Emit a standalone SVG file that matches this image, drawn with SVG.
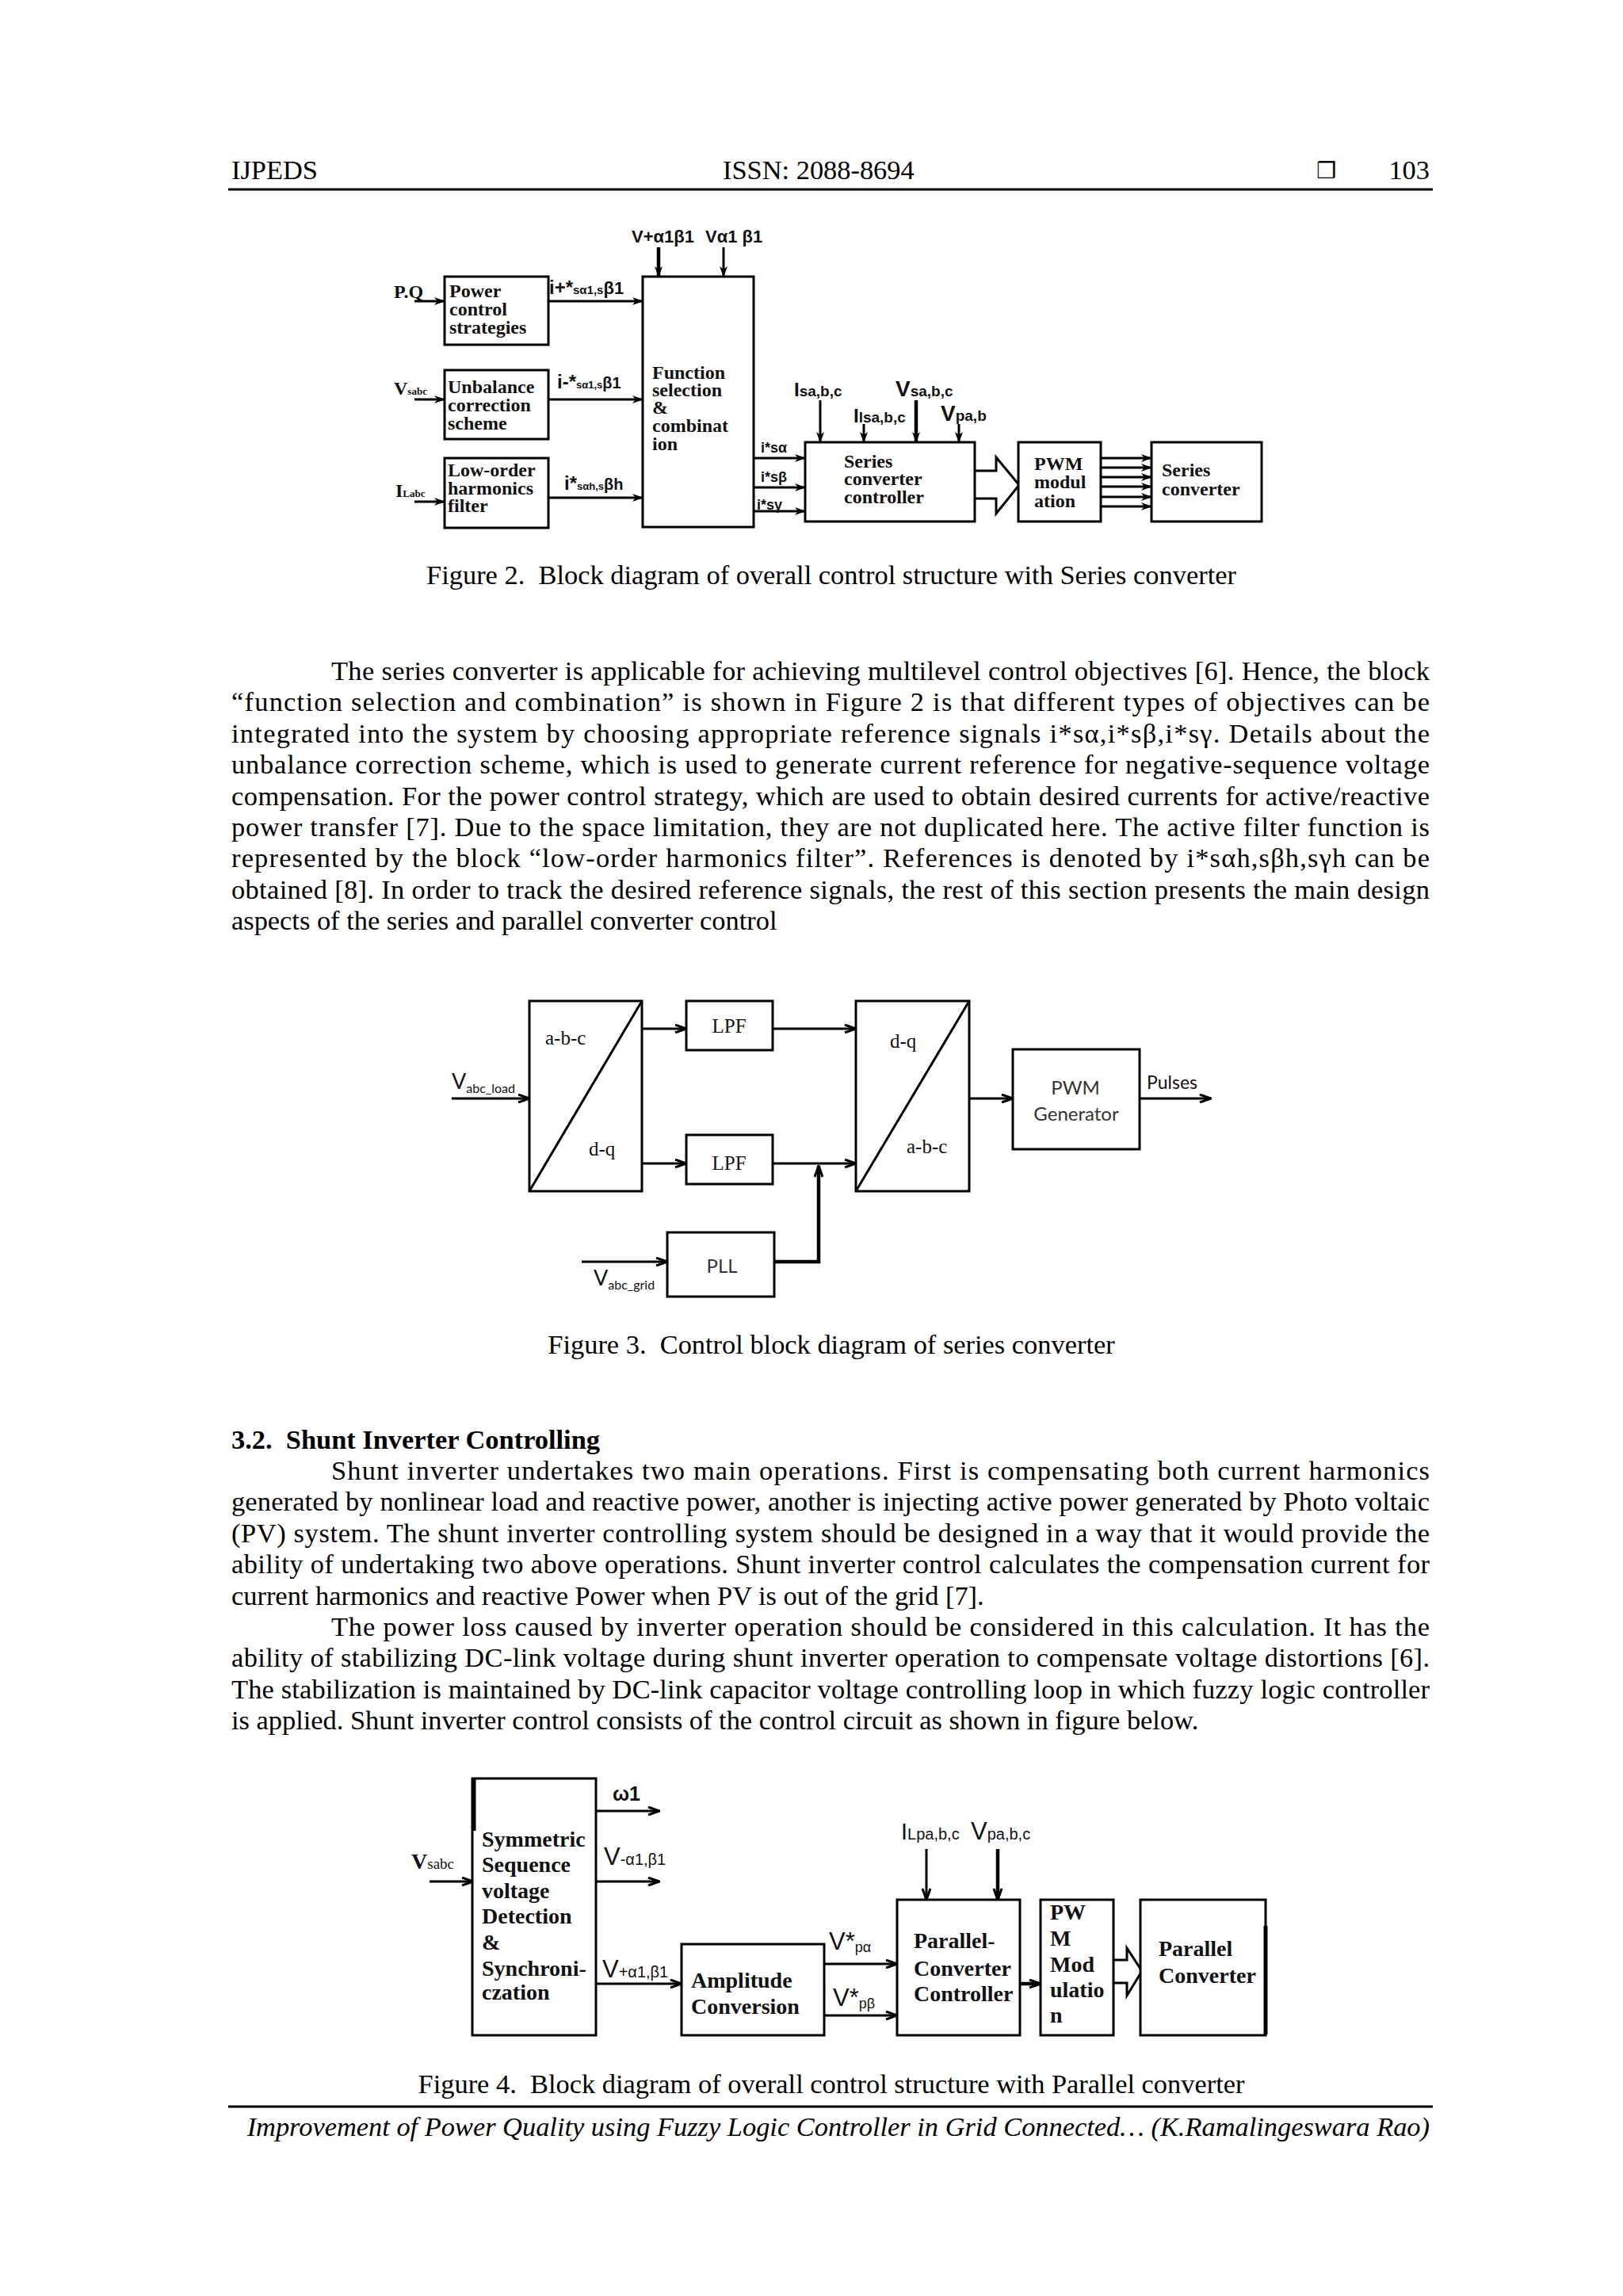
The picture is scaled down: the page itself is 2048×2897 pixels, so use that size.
<svg xmlns="http://www.w3.org/2000/svg" width="2048" height="2897" viewBox="0 0 2048 2897">
<style>
.bg{fill:#fff}
.body{font-family:"Liberation Serif","Times New Roman",serif;font-size:34.4px;fill:#000}
.it{font-style:italic}
.bold{font-weight:bold}
.box{fill:#fff;stroke:#000;stroke-width:3}
.ln{fill:none;stroke:#000;stroke-width:3}
.thk{fill:none;stroke:#000;stroke-width:4.5}
.f2{font-family:"Liberation Serif","Times New Roman",serif;font-size:24px;font-weight:bold;fill:#111}
.f2s{font-family:"Liberation Sans",Arial,sans-serif;font-weight:bold;fill:#111}
.f3{font-family:"Liberation Serif","Times New Roman",serif;font-size:25px;fill:#111}
.f3s{font-family:Lato,"Liberation Sans",sans-serif;fill:#333}
.f4{font-family:"Liberation Serif","Times New Roman",serif;font-size:28px;font-weight:bold;fill:#111}
.f4s{font-family:"Liberation Sans",Arial,sans-serif;fill:#111}
</style>
<defs>
<marker id="ah" viewBox="0 0 16 12" refX="15" refY="6" markerWidth="16" markerHeight="12" markerUnits="userSpaceOnUse" orient="auto">
<path d="M1,1 L15,6 L1,11" fill="none" stroke="#000" stroke-width="3"/>
</marker>
<marker id="af" viewBox="0 0 14 12" refX="13" refY="6" markerWidth="14" markerHeight="12" markerUnits="userSpaceOnUse" orient="auto">
<path d="M0,1 L14,6 L0,11 L4,6 Z" fill="#000"/>
</marker>
</defs>
<rect class="bg" x="0" y="0" width="2048" height="2897"/>

<g id="header">
<text class="body" x="292" y="226">IJPEDS</text>
<text class="body" x="912" y="226">ISSN: 2088-8694</text>
<text x="1661" y="225" style="font-family:'DejaVu Sans',sans-serif;font-size:28px;fill:#000">❒</text>
<text class="body" x="1804" y="226" text-anchor="end">103</text>
<line x1="288" y1="239" x2="1808" y2="239" stroke="#000" stroke-width="3"/>
</g>

<!-- ================= FIGURE 2 ================= -->
<g id="fig2-connectors">
<line class="thk" x1="831" y1="312" x2="831" y2="349" marker-end="url(#af)"/>
<line class="ln" x1="913" y1="312" x2="913" y2="349" marker-end="url(#af)"/>
<line class="ln" x1="523" y1="380" x2="561" y2="380" marker-end="url(#af)"/>
<line class="ln" x1="523" y1="504" x2="561" y2="504" marker-end="url(#af)"/>
<line class="ln" x1="523" y1="633" x2="561" y2="633" marker-end="url(#af)"/>
<line class="ln" x1="692" y1="380" x2="811" y2="380" marker-end="url(#af)"/>
<line class="ln" x1="692" y1="504" x2="811" y2="504" marker-end="url(#af)"/>
<line class="ln" x1="692" y1="628" x2="811" y2="628" marker-end="url(#af)"/>
<line class="ln" x1="951" y1="578" x2="1016" y2="578" marker-end="url(#af)"/>
<line class="ln" x1="951" y1="615" x2="1016" y2="615" marker-end="url(#af)"/>
<line class="ln" x1="951" y1="645" x2="1016" y2="645" marker-end="url(#af)"/>
<line class="ln" x1="1035" y1="505" x2="1035" y2="558" marker-end="url(#af)"/>
<line class="ln" x1="1090" y1="535" x2="1090" y2="558" marker-end="url(#af)"/>
<line class="thk" x1="1156" y1="505" x2="1156" y2="558" marker-end="url(#af)"/>
<line class="ln" x1="1210" y1="535" x2="1210" y2="558" marker-end="url(#af)"/>
<path d="M1230,594 H1257 V577 L1286,612 L1257,648 V629 H1230" fill="#fff" stroke="#000" stroke-width="3"/>
<line class="ln" x1="1389" y1="578" x2="1453" y2="578" marker-end="url(#af)"/>
<line class="ln" x1="1389" y1="590" x2="1453" y2="590" marker-end="url(#af)"/>
<line class="ln" x1="1389" y1="602" x2="1453" y2="602" marker-end="url(#af)"/>
<line class="ln" x1="1389" y1="614" x2="1453" y2="614" marker-end="url(#af)"/>
<line class="ln" x1="1389" y1="627" x2="1453" y2="627" marker-end="url(#af)"/>
<line class="ln" x1="1389" y1="639" x2="1453" y2="639" marker-end="url(#af)"/>
</g>
<g id="fig2-labels">
<text class="f2s" x="797" y="306" font-size="22">V+α1β1</text>
<text class="f2s" x="890" y="306" font-size="22">Vα1 β1</text>
<text class="f2" x="497" y="376" font-size="27">P.Q</text>
<text class="f2" x="497" y="498" font-size="28">V<tspan font-size="13">sabc</tspan></text>
<text class="f2" x="499" y="627" font-size="27">I<tspan font-size="13">Labc</tspan></text>
<text class="f2s" x="693" y="371" font-size="24">i+*<tspan font-size="15">sα1,s</tspan><tspan font-size="22">β1</tspan></text>
<text class="f2s" x="703" y="490" font-size="24">i-*<tspan font-size="13">sα1,s</tspan><tspan font-size="20">β1</tspan></text>
<text class="f2s" x="712" y="618" font-size="24">i*<tspan font-size="13">sαh,s</tspan><tspan font-size="20">βh</tspan></text>
<text class="f2s" x="960" y="571" font-size="18">i*sα</text>
<text class="f2s" x="960" y="608" font-size="18">i*sβ</text>
<text class="f2s" x="955" y="643" font-size="18">i*sγ</text>
<text class="f2s" x="1002" y="500" font-size="24">I<tspan font-size="19">sa,b,c</tspan></text>
<text class="f2s" x="1077" y="533" font-size="24">I<tspan font-size="19">lsa,b,c</tspan></text>
<text class="f2s" x="1130" y="500" font-size="28">V<tspan font-size="19">sa,b,c</tspan></text>
<text class="f2s" x="1187" y="531" font-size="28">V<tspan font-size="19">pa,b</tspan></text>
</g>
<g id="f2-power">
<rect class="box" x="561" y="349" width="131" height="86"/>
<text class="f2" x="567" y="375">Power</text>
<text class="f2" x="567" y="398">control</text>
<text class="f2" x="567" y="421">strategies</text>
</g>
<g id="f2-unbalance">
<rect class="box" x="561" y="467" width="131" height="87"/>
<text class="f2" x="565" y="496">Unbalance</text>
<text class="f2" x="565" y="519">correction</text>
<text class="f2" x="565" y="542">scheme</text>
</g>
<g id="f2-loworder">
<rect class="box" x="561" y="578" width="131" height="88"/>
<text class="f2" x="565" y="601">Low-order</text>
<text class="f2" x="565" y="624">harmonics</text>
<text class="f2" x="565" y="646">filter</text>
</g>
<g id="f2-function">
<rect class="box" x="811" y="349" width="140" height="316" stroke-width="3.5"/>
<text class="f2" x="823" y="478">Function</text>
<text class="f2" x="823" y="500">selection</text>
<text class="f2" x="823" y="522">&amp;</text>
<text class="f2" x="823" y="545">combinat</text>
<text class="f2" x="823" y="568">ion</text>
</g>
<g id="f2-seriesctrl">
<rect class="box" x="1016" y="558" width="214" height="100"/>
<text class="f2" x="1065" y="590">Series</text>
<text class="f2" x="1065" y="612">converter</text>
<text class="f2" x="1065" y="635">controller</text>
</g>
<g id="f2-pwm">
<rect class="box" x="1285" y="558" width="104" height="100"/>
<text class="f2" x="1305" y="593">PWM</text>
<text class="f2" x="1305" y="616">modul</text>
<text class="f2" x="1305" y="640">ation</text>
</g>
<g id="f2-seriesconv">
<rect class="box" x="1453" y="558" width="139" height="100"/>
<text class="f2" x="1466" y="601">Series</text>
<text class="f2" x="1466" y="625">converter</text>
</g>
<text class="body" x="1049" y="737" text-anchor="middle">Figure 2.&#160; Block diagram of overall control structure with Series converter</text>

<!-- ================= PARAGRAPH 1 ================= -->
<g id="para1" class="body">
<text x="418" y="858" textLength="1386" lengthAdjust="spacing">The series converter is applicable for achieving multilevel control objectives [6]. Hence, the block</text>
<text x="292" y="897.4" textLength="1512" lengthAdjust="spacing">“function selection and combination” is shown in Figure 2 is that different types of objectives can be</text>
<text x="292" y="936.8" textLength="1512" lengthAdjust="spacing">integrated into the system by choosing appropriate reference signals i*sα,i*sβ,i*sγ. Details about the</text>
<text x="292" y="976.2" textLength="1512" lengthAdjust="spacing">unbalance correction scheme, which is used to generate current reference for negative-sequence voltage</text>
<text x="292" y="1015.6" textLength="1512" lengthAdjust="spacing">compensation. For the power control strategy, which are used to obtain desired currents for active/reactive</text>
<text x="292" y="1055" textLength="1512" lengthAdjust="spacing">power transfer [7]. Due to the space limitation, they are not duplicated here. The active filter function is</text>
<text x="292" y="1094.4" textLength="1512" lengthAdjust="spacing">represented by the block “low-order harmonics filter”. References is denoted by i*sαh,sβh,sγh can be</text>
<text x="292" y="1133.8" textLength="1512" lengthAdjust="spacing">obtained [8]. In order to track the desired reference signals, the rest of this section presents the main design</text>
<text x="292" y="1173.2">aspects of the series and parallel converter control</text>
</g>

<!-- ================= FIGURE 3 ================= -->
<g id="fig3-connectors">
<line class="ln" x1="570" y1="1386" x2="668" y2="1386" marker-end="url(#ah)"/>
<line class="ln" x1="810" y1="1298" x2="866" y2="1298" marker-end="url(#ah)"/>
<line class="ln" x1="810" y1="1468" x2="866" y2="1468" marker-end="url(#ah)"/>
<line class="ln" x1="975" y1="1298" x2="1080" y2="1298" marker-end="url(#ah)"/>
<line class="ln" x1="975" y1="1468" x2="1080" y2="1468" marker-end="url(#ah)"/>
<line class="ln" x1="734" y1="1592" x2="842" y2="1592" marker-end="url(#ah)"/>
<path d="M977,1592 H1033 V1471" fill="none" stroke="#000" stroke-width="4.5" marker-end="url(#ah)"/>
<line class="ln" x1="1223" y1="1386" x2="1278" y2="1386" marker-end="url(#ah)"/>
<line class="ln" x1="1438" y1="1386" x2="1528" y2="1386" marker-end="url(#ah)"/>
</g>
<g id="fig3-labels">
<text class="f3s" x="570" y="1374" font-size="27" style="fill:#111">V<tspan font-size="16" dy="5">abc_load</tspan></text>
<text class="f3s" x="749" y="1622" font-size="27" style="fill:#111">V<tspan font-size="16" dy="5">abc_grid</tspan></text>
<text class="f3s" x="1447" y="1374" font-size="23" style="fill:#111">Pulses</text>
</g>
<g id="f3-abc2dq">
<rect class="box" x="668" y="1263" width="142" height="240"/>
<line class="ln" x1="668" y1="1503" x2="810" y2="1263"/>
<text class="f3" x="688" y="1318">a-b-c</text>
<text class="f3" x="743" y="1458">d-q</text>
</g>
<g id="f3-lpf1">
<rect class="box" x="866" y="1263" width="109" height="62"/>
<text class="f3" x="920" y="1303" text-anchor="middle">LPF</text>
</g>
<g id="f3-lpf2">
<rect class="box" x="866" y="1432" width="109" height="62"/>
<text class="f3" x="920" y="1476" text-anchor="middle">LPF</text>
</g>
<g id="f3-pll">
<rect class="box" x="842" y="1555" width="135" height="81"/>
<text class="f3s" x="911" y="1606" font-size="24" text-anchor="middle">PLL</text>
</g>
<g id="f3-dq2abc">
<rect class="box" x="1080" y="1263" width="143" height="240"/>
<line class="ln" x1="1080" y1="1503" x2="1223" y2="1263"/>
<text class="f3" x="1123" y="1322">d-q</text>
<text class="f3" x="1144" y="1455">a-b-c</text>
</g>
<g id="f3-pwmgen">
<rect class="box" x="1278" y="1324" width="160" height="126"/>
<text class="f3s" x="1357" y="1381" font-size="24" text-anchor="middle">PWM</text>
<text class="f3s" x="1358" y="1414" font-size="24" text-anchor="middle">Generator</text>
</g>
<text class="body" x="1049" y="1708" text-anchor="middle">Figure 3.&#160; Control block diagram of series converter</text>

<!-- ================= SECTION 3.2 ================= -->
<text class="body bold" x="292" y="1828">3.2.&#160; Shunt Inverter Controlling</text>
<g id="para2" class="body">
<text x="418" y="1867" textLength="1386" lengthAdjust="spacing">Shunt inverter undertakes two main operations. First is compensating both current harmonics</text>
<text x="292" y="1906.4" textLength="1512" lengthAdjust="spacing">generated by nonlinear load and reactive power, another is injecting active power generated by Photo voltaic</text>
<text x="292" y="1945.8" textLength="1512" lengthAdjust="spacing">(PV) system. The shunt inverter controlling system should be designed in a way that it would provide the</text>
<text x="292" y="1985.2" textLength="1512" lengthAdjust="spacing">ability of undertaking two above operations. Shunt inverter control calculates the compensation current for</text>
<text x="292" y="2024.6">current harmonics and reactive Power when PV is out of the grid [7].</text>
</g>
<g id="para3" class="body">
<text x="418" y="2064" textLength="1386" lengthAdjust="spacing">The power loss caused by inverter operation should be considered in this calculation. It has the</text>
<text x="292" y="2103.4" textLength="1512" lengthAdjust="spacing">ability of stabilizing DC-link voltage during shunt inverter operation to compensate voltage distortions [6].</text>
<text x="292" y="2142.8" textLength="1512" lengthAdjust="spacing">The stabilization is maintained by DC-link capacitor voltage controlling loop in which fuzzy logic controller</text>
<text x="292" y="2182.2">is applied. Shunt inverter control consists of the control circuit as shown in figure below.</text>
</g>

<!-- ================= FIGURE 4 ================= -->
<g id="fig4-connectors">
<line class="ln" x1="542" y1="2374" x2="597" y2="2374" marker-end="url(#ah)"/>
<line class="ln" x1="752" y1="2285" x2="832" y2="2285" marker-end="url(#ah)"/>
<line class="ln" x1="752" y1="2374" x2="832" y2="2374" marker-end="url(#ah)"/>
<line class="ln" x1="752" y1="2503" x2="860" y2="2503" marker-end="url(#ah)"/>
<line class="ln" x1="1040" y1="2478" x2="1132" y2="2478" marker-end="url(#ah)"/>
<line class="ln" x1="1040" y1="2543" x2="1132" y2="2543" marker-end="url(#ah)"/>
<line class="ln" x1="1169" y1="2333" x2="1169" y2="2397" marker-end="url(#ah)"/>
<line class="thk" x1="1259" y1="2333" x2="1259" y2="2397" marker-end="url(#ah)"/>
<line class="thk" x1="1287" y1="2503" x2="1313" y2="2503" marker-end="url(#ah)"/>
<path d="M1405,2473 H1422 V2458 L1441,2487 L1422,2518 V2502 H1405" fill="#fff" stroke="#000" stroke-width="3"/>
</g>
<g id="fig4-labels">
<text class="f4" x="519" y="2358" font-size="34">V<tspan font-size="19" font-weight="normal">sabc</tspan></text>
<text class="f4s" x="773" y="2272" font-size="25" font-weight="bold">ω1</text>
<text class="f4s" x="762" y="2353" font-size="31">V<tspan font-size="20">-α1,β1</tspan></text>
<text class="f4s" x="760" y="2495" font-size="31">V<tspan font-size="20">+α1,β1</tspan></text>
<text class="f4s" x="1046" y="2460" font-size="31">V*<tspan font-size="18" dy="3">pα</tspan></text>
<text class="f4s" x="1051" y="2531" font-size="31">V*<tspan font-size="18" dy="3">pβ</tspan></text>
<text class="f4s" x="1137" y="2321" font-size="29">I<tspan font-size="20">Lpa,b,c</tspan></text>
<text class="f4s" x="1225" y="2321" font-size="31">V<tspan font-size="20">pa,b,c</tspan></text>
</g>
<g id="f4-symmetric">
<rect class="box" x="596" y="2244" width="156" height="324"/>
<line x1="598" y1="2244" x2="598" y2="2310" stroke="#000" stroke-width="5"/>
<text class="f4" x="608" y="2330">Symmetric</text>
<text class="f4" x="608" y="2362">Sequence</text>
<text class="f4" x="608" y="2395">voltage</text>
<text class="f4" x="608" y="2427">Detection</text>
<text class="f4" x="608" y="2460">&amp;</text>
<text class="f4" x="608" y="2493">Synchroni-</text>
<text class="f4" x="608" y="2523">czation</text>
</g>
<g id="f4-amplitude">
<rect class="box" x="860" y="2453" width="180" height="115"/>
<text class="f4" x="872" y="2508">Amplitude</text>
<text class="f4" x="872" y="2541">Conversion</text>
</g>
<g id="f4-controller">
<rect class="box" x="1132" y="2397" width="155" height="171"/>
<text class="f4" x="1153" y="2458">Parallel-</text>
<text class="f4" x="1153" y="2493">Converter</text>
<text class="f4" x="1153" y="2525">Controller</text>
</g>
<g id="f4-pwm">
<rect class="box" x="1313" y="2397" width="92" height="171"/>
<text class="f4" x="1325" y="2422">PW</text>
<text class="f4" x="1325" y="2455">M</text>
<text class="f4" x="1325" y="2488">Mod</text>
<text class="f4" x="1325" y="2520">ulatio</text>
<text class="f4" x="1325" y="2552">n</text>
</g>
<g id="f4-parallelconv">
<rect class="box" x="1439" y="2397" width="158" height="171"/>
<line x1="1597" y1="2430" x2="1597" y2="2567" stroke="#000" stroke-width="5"/>
<text class="f4" x="1462" y="2468">Parallel</text>
<text class="f4" x="1462" y="2502">Converter</text>
</g>
<text class="body" x="1049" y="2641" text-anchor="middle">Figure 4.&#160; Block diagram of overall control structure with Parallel converter</text>

<g id="footer">
<line x1="288" y1="2658" x2="1808" y2="2658" stroke="#000" stroke-width="3"/>
<text class="body it" x="1804" y="2695" text-anchor="end">Improvement of Power Quality using Fuzzy Logic Controller in Grid Connected… (K.Ramalingeswara Rao)</text>
</g>
</svg>
